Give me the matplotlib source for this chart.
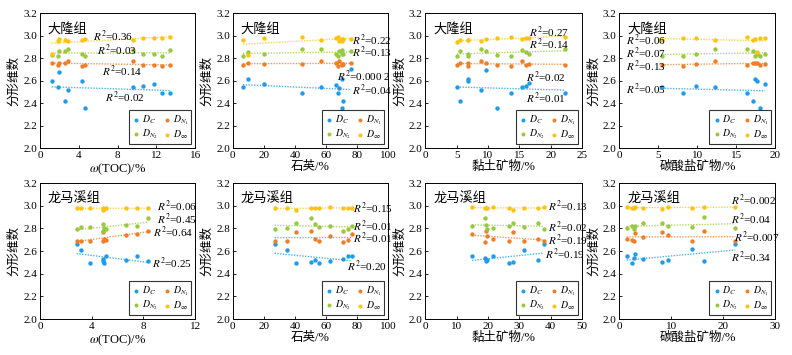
import numpy as np
import matplotlib
matplotlib.use("Agg")
import matplotlib.pyplot as plt

plt.rcParams['font.family'] = ['Liberation Serif', 'Noto Sans CJK SC']
plt.rcParams['mathtext.fontset'] = 'stix'
plt.rcParams['axes.unicode_minus'] = False

series_names = [r'$D_C$', r'$D_{N_1}$', r'$D_{N_2}$', r'$D_\infty$']
colors = ['#1E9CEB', '#F07E26', '#98C93C', '#FFC20E']
line_colors = ['#4FB3F0', '#F49A58', '#B2D86A', '#FFD24D']

# ---------- 大隆组 ----------
dl_toc_x = [1.2, 1.9, 2.0, 2.6, 2.9, 4.3, 4.65, 9.6, 10.6, 11.7, 12.6, 13.4]
dl_toc_dc = [2.60, 2.54, 2.68, 2.42, 2.52, 2.60, 2.36, 2.54, 2.55, 2.57, 2.49, 2.49]
dl_toc_dn1 = [2.76, 2.74, 2.76, 2.76, 2.77, 2.73, 2.74, 2.77, 2.74, 2.74, 2.73, 2.74]
dl_toc_dn2 = [2.83, 2.82, 2.86, 2.86, 2.88, 2.84, 2.82, 2.87, 2.84, 2.84, 2.82, 2.87]
dl_toc_dinf = [2.84, 2.95, 2.97, 2.96, 2.95, 2.96, 2.97, 2.96, 2.98, 2.98, 2.98, 2.99]
dl_toc_r2 = ['0.02', '0.14', '0.03', '0.36']

dl_qz_x = [6.5, 9.7, 19.9, 44.7, 56.6, 66.5, 67.6, 68.7, 70.0, 70.5, 71.0, 76.2]
dl_qz_dc = [2.54, 2.61, 2.57, 2.49, 2.54, 2.56, 2.49, 2.53, 2.36, 2.61, 2.42, 2.70]
dl_qz_dn1 = [2.74, 2.76, 2.75, 2.75, 2.77, 2.76, 2.73, 2.77, 2.75, 2.74, 2.75, 2.76]
dl_qz_dn2 = [2.82, 2.85, 2.84, 2.88, 2.88, 2.84, 2.82, 2.86, 2.87, 2.84, 2.84, 2.86]
dl_qz_dinf = [2.96, 2.83, 2.98, 2.99, 2.96, 2.98, 2.99, 2.95, 2.97, 2.95, 2.97, 2.97]
dl_qz_r2 = ['0.04', '0.000 2', '0.13', '0.22']

dl_clay_x = [5.05, 5.6, 6.75, 6.75, 8.9, 9.7, 11.4, 13.6, 15.4, 16.0, 16.6, 22.3]
dl_clay_dc = [2.54, 2.42, 2.61, 2.60, 2.52, 2.69, 2.36, 2.49, 2.54, 2.55, 2.58, 2.49]
dl_clay_dn1 = [2.74, 2.76, 2.76, 2.73, 2.77, 2.76, 2.74, 2.73, 2.77, 2.74, 2.75, 2.74]
dl_clay_dn2 = [2.82, 2.86, 2.84, 2.82, 2.88, 2.86, 2.83, 2.82, 2.87, 2.85, 2.84, 2.88]
dl_clay_dinf = [2.94, 2.96, 2.96, 2.96, 2.95, 2.97, 2.98, 2.99, 2.97, 2.98, 2.98, 2.99]
dl_clay_r2 = ['0.01', '0.02', '0.14', '0.27']

dl_carb_x = [5.45, 8.1, 9.85, 12.3, 16.4, 17.1, 17.4, 17.6, 18.0, 18.7]
dl_carb_dc = [2.54, 2.49, 2.55, 2.54, 2.49, 2.42, 2.61, 2.60, 2.36, 2.57]
dl_carb_dn1 = [2.74, 2.73, 2.75, 2.77, 2.74, 2.76, 2.76, 2.76, 2.74, 2.75]
dl_carb_dn2 = [2.82, 2.82, 2.84, 2.88, 2.88, 2.86, 2.82, 2.84, 2.82, 2.84]
dl_carb_dinf = [2.96, 2.98, 2.98, 2.96, 2.99, 2.96, 2.97, 2.85, 2.98, 2.98]
dl_carb_r2 = ['0.05', '0.13', '0.07', '0.06']

# ---------- 龙马溪组 ----------
lm_toc_x = [2.83, 3.14, 3.86, 4.85, 4.9, 4.95, 5.07, 6.68, 7.5, 8.35]
lm_toc_dc = [2.66, 2.61, 2.49, 2.53, 2.51, 2.49, 2.56, 2.52, 2.56, 2.51]
lm_toc_dn1 = [2.69, 2.69, 2.69, 2.77, 2.69, 2.71, 2.70, 2.74, 2.75, 2.78]
lm_toc_dn2 = [2.79, 2.81, 2.81, 2.84, 2.78, 2.80, 2.79, 2.83, 2.82, 2.89]
lm_toc_dinf = [2.98, 2.98, 2.98, 2.98, 2.96, 2.97, 2.98, 2.98, 2.98, 2.98]
lm_toc_r2 = ['0.25', '0.64', '0.45', '0.06']

lm_qz_x = [26.9, 34.9, 40.7, 50.6, 53.2, 55.8, 62.5, 71.1, 74.4, 76.5]
lm_qz_dc = [2.66, 2.61, 2.49, 2.50, 2.52, 2.49, 2.51, 2.53, 2.56, 2.56]
lm_qz_dn1 = [2.69, 2.69, 2.77, 2.78, 2.71, 2.69, 2.73, 2.68, 2.70, 2.75]
lm_qz_dn2 = [2.79, 2.80, 2.85, 2.89, 2.84, 2.81, 2.82, 2.78, 2.79, 2.82]
lm_qz_dinf = [2.98, 2.98, 2.96, 2.98, 2.98, 2.98, 2.99, 2.98, 2.98, 2.98]
lm_qz_r2 = ['0.20', '0.01', '0.01', '0.15']

lm_clay_x = [14.9, 19.0, 19.4, 19.7, 21.5, 26.7, 27.9, 31.4, 35.9, 37.8]
lm_clay_dc = [2.56, 2.54, 2.51, 2.52, 2.56, 2.49, 2.50, 2.61, 2.52, 2.66]
lm_clay_dn1 = [2.75, 2.68, 2.78, 2.73, 2.71, 2.69, 2.77, 2.69, 2.71, 2.69]
lm_clay_dn2 = [2.82, 2.89, 2.83, 2.79, 2.80, 2.82, 2.85, 2.81, 2.85, 2.79]
lm_clay_dinf = [2.99, 2.98, 2.98, 2.98, 2.99, 2.98, 2.96, 2.98, 2.98, 2.99]
lm_clay_r2 = ['0.19', '0.19', '0.02', '0.13']

lm_carb_x = [1.4, 2.37, 2.76, 3.08, 4.6, 8.2, 9.4, 14.0, 16.2, 22.3]
lm_carb_dc = [2.56, 2.49, 2.54, 2.57, 2.53, 2.50, 2.52, 2.62, 2.51, 2.66]
lm_carb_dn1 = [2.71, 2.70, 2.69, 2.76, 2.72, 2.77, 2.74, 2.69, 2.78, 2.69]
lm_carb_dn2 = [2.80, 2.82, 2.79, 2.82, 2.85, 2.85, 2.82, 2.81, 2.90, 2.80]
lm_carb_dinf = [2.99, 2.98, 2.98, 2.99, 2.98, 2.97, 2.99, 2.98, 2.99, 2.99]
lm_carb_r2 = ['0.34', '0.007', '0.04', '0.002']

xlabels = [r'$\omega$(TOC)/%', '石英/%', '黏土矿物/%', '碳酸盐矿物/%']
xlims_top = [(0, 16), (0, 100), (0, 25), (0, 20)]
xticks_top = [[0, 4, 8, 12, 16], [0, 20, 40, 60, 80, 100], [0, 5, 10, 15, 20, 25], [0, 5, 10, 15, 20]]
xlims_bot = [(0, 12), (0, 100), (0, 50), (0, 30)]
xticks_bot = [[0, 4, 8, 12], [0, 20, 40, 60, 80, 100], [0, 10, 20, 30, 40, 50], [0, 10, 20, 30]]

top_data = [
    (dl_toc_x, [dl_toc_dc, dl_toc_dn1, dl_toc_dn2, dl_toc_dinf], dl_toc_r2),
    (dl_qz_x, [dl_qz_dc, dl_qz_dn1, dl_qz_dn2, dl_qz_dinf], dl_qz_r2),
    (dl_clay_x, [dl_clay_dc, dl_clay_dn1, dl_clay_dn2, dl_clay_dinf], dl_clay_r2),
    (dl_carb_x, [dl_carb_dc, dl_carb_dn1, dl_carb_dn2, dl_carb_dinf], dl_carb_r2),
]
bot_data = [
    (lm_toc_x, [lm_toc_dc, lm_toc_dn1, lm_toc_dn2, lm_toc_dinf], lm_toc_r2),
    (lm_qz_x, [lm_qz_dc, lm_qz_dn1, lm_qz_dn2, lm_qz_dinf], lm_qz_r2),
    (lm_clay_x, [lm_clay_dc, lm_clay_dn1, lm_clay_dn2, lm_clay_dinf], lm_clay_r2),
    (lm_carb_x, [lm_carb_dc, lm_carb_dn1, lm_carb_dn2, lm_carb_dinf], lm_carb_r2),
]

# label positions (data coords) for R² text, order Dc, Dn1, Dn2, Dinf
top_lab_pos = [
    [(6.7, 2.45), (6.4, 2.68), (5.85, 2.87), (5.5, 2.99)],
    [(76.5, 2.51), (67, 2.64), (76.5, 2.85), (76.5, 2.96)],
    [(16.0, 2.44), (16.0, 2.63), (16.5, 2.92), (16.5, 3.03)],
    [(0.85, 2.52), (0.85, 2.73), (0.85, 2.84), (0.85, 2.96)],
]
bot_lab_pos = [
    [(8.66, 2.49), (8.74, 2.76), (9.05, 2.88), (9.05, 2.99)],
    [(73.7, 2.46), (77.5, 2.71), (77.5, 2.82), (77.5, 2.98)],
    [(38.3, 2.57), (39.1, 2.69), (39.1, 2.81), (39.1, 2.99)],
    [(21.5, 2.54), (22.1, 2.72), (21.5, 2.88), (21.5, 3.05)],
]

fig = plt.figure(figsize=(7.92, 3.55), dpi=100)
lefts = [0.0505, 0.294, 0.537, 0.782]
widths = [0.196, 0.196, 0.198, 0.197]
rows = [(0.583, 0.38, '大隆组', top_data, top_lab_pos, xlims_top, xticks_top),
        (0.1014, 0.383, '龙马溪组', bot_data, bot_lab_pos, xlims_bot, xticks_bot)]

for bottom, height, title, data, labpos, xlims, xticks in rows:
    for i in range(4):
        ax = fig.add_axes([lefts[i], bottom, widths[i], height])
        x, ys, r2s = data[i]
        xa = np.array(x, dtype=float)
        handles = []
        for k in range(4):
            ya = np.array(ys[k], dtype=float)
            h = ax.scatter(xa, ya, s=10, color=colors[k], label=series_names[k],
                           zorder=3, linewidths=0)
            handles.append(h)
            p = np.polyfit(xa, ya, 1)
            xx = np.array([xa.min(), xa.max()])
            ax.plot(xx, np.polyval(p, xx), ls=(0, (1, 1)), lw=1.0,
                    color=line_colors[k], zorder=2)
            lx, ly = labpos[i][k]
            ax.text(lx, ly, r'$R^2$=' + r2s[k], fontsize=8, va='center',
                    ha='left', clip_on=False, zorder=4)
        ax.set_xlim(*xlims[i])
        ax.set_xticks(xticks[i])
        ax.set_ylim(2.0, 3.2)
        ax.set_yticks(np.arange(2.0, 3.21, 0.2))
        ax.yaxis.set_major_formatter(matplotlib.ticker.FormatStrFormatter('%.1f'))
        ax.tick_params(direction='in', length=2.5, labelsize=8, width=0.6, pad=2)
        for sp in ax.spines.values():
            sp.set_linewidth(0.7)
        ax.set_xlabel(xlabels[i], fontsize=9, labelpad=1)
        ax.set_ylabel('分形维数', fontsize=9, labelpad=2)
        ax.text(0.05, 0.93, title, transform=ax.transAxes, fontsize=9.5,
                va='top', ha='left')
        order = [0, 2, 1, 3]
        leg = ax.legend([handles[j] for j in order], [series_names[j] for j in order],
                        loc='lower right', ncol=2, fontsize=7, frameon=True,
                        fancybox=False, edgecolor='black', handletextpad=0.1,
                        columnspacing=0.4, borderpad=0.3, labelspacing=0.2,
                        handlelength=1.0, markerscale=0.9,
                        borderaxespad=0.4)
        leg.get_frame().set_linewidth(0.8)

fig.savefig('out.png', dpi=100)
